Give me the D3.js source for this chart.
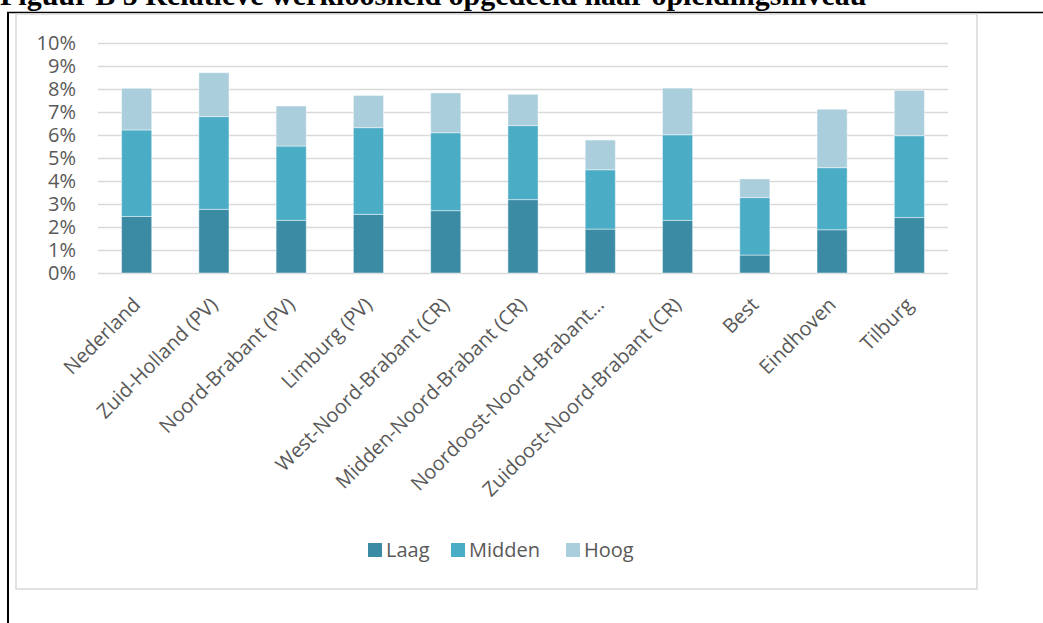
<!DOCTYPE html>
<html>
<head>
<meta charset="utf-8">
<script src="https://cdn.jsdelivr.net/npm/d3@7/dist/d3.min.js"></script>
<style>
  html, body { margin: 0; padding: 0; background: #fff; }
  svg { display: block; }
</style>
</head>
<body>
<svg id="chart" width="1043" height="623"></svg>
<script>
// Regions shown along the x axis
const regions = [
  "Nederland", "Zuid-Holland (PV)", "Noord-Brabant (PV)", "Limburg (PV)",
  "West-Noord-Brabant (CR)", "Midden-Noord-Brabant (CR)", "Noordoost-Noord-Brabant…",
  "Zuidoost-Noord-Brabant (CR)", "Best", "Eindhoven", "Tilburg"
];

// Unemployment share (%) per education level, stacked bottom to top
const laag   = [2.46, 2.77, 2.29, 2.55, 2.71, 3.19, 1.91, 2.29, 0.78, 1.88, 2.41];
const midden = [3.76, 4.03, 3.23, 3.77, 3.39, 3.22, 2.58, 3.72, 2.50, 2.70, 3.56];
const hoog   = [1.81, 1.91, 1.74, 1.40, 1.73, 1.36, 1.29, 2.03, 0.81, 2.54, 1.97];

const seriesNames = ["Laag", "Midden", "Hoog"];
const seriesColors = ["#3b8ba4", "#4bacc6", "#aacedc"];
const yTicks = [0, 1, 2, 3, 4, 5, 6, 7, 8, 9, 10];

const title = "Figuur B 5 Relatieve werkloosheid opgedeeld naar opleidingsniveau";

const svg = d3.select("#chart");
const textColor = "#595959";
const labelFont = "'Open Sans', 'DejaVu Sans', sans-serif";

// Heading, partly cut off at the top edge
svg.append("text")
  .attr("x", 0).attr("y", 5)
  .attr("font-family", "'Liberation Serif', 'Times New Roman', serif")
  .attr("font-weight", "bold")
  .attr("font-size", 30)
  .attr("fill", "#000")
  .text(title);

// Black frame lines (top and left)
svg.append("line").attr("x1", 7).attr("x2", 1043).attr("y1", 12.5).attr("y2", 12.5)
  .attr("stroke", "#000").attr("stroke-width", 1.5);
svg.append("line").attr("x1", 8).attr("x2", 8).attr("y1", 12).attr("y2", 623)
  .attr("stroke", "#000").attr("stroke-width", 2);

// Chart area border
svg.append("rect")
  .attr("x", 16).attr("y", 14).attr("width", 961).attr("height", 575)
  .attr("fill", "#fff").attr("stroke", "#d9d9d9").attr("stroke-width", 1.5);

// Plot geometry
const plot = { left: 98, right: 948, top: 43, bottom: 273 };

const x = d3.scaleBand()
  .domain(regions)
  .range([plot.left, plot.right])
  .paddingInner(0.61)
  .paddingOuter(0.305);

const y = d3.scaleLinear()
  .domain([0, 10])
  .range([plot.bottom, plot.top]);

// Horizontal gridlines
svg.append("g")
  .selectAll("line")
  .data(yTicks)
  .join("line")
  .attr("x1", plot.left).attr("x2", plot.right)
  .attr("y1", d => Math.round(y(d)) + 0.5).attr("y2", d => Math.round(y(d)) + 0.5)
  .attr("stroke", "#d9d9d9").attr("stroke-width", 1.3);

// Y axis tick labels
const yAxis = d3.axisLeft(y)
  .tickValues(yTicks)
  .tickFormat(d => d + "%")
  .tickSize(0)
  .tickPadding(22);

const yAxisG = svg.append("g")
  .attr("transform", `translate(${plot.left},0)`)
  .call(yAxis);
yAxisG.select(".domain").remove();
yAxisG.selectAll("text")
  .attr("font-family", labelFont)
  .attr("font-size", 20)
  .attr("fill", textColor);

// Stacked bars
const rows = regions.map((r, i) => ({ region: r, Laag: laag[i], Midden: midden[i], Hoog: hoog[i] }));
const stacked = d3.stack().keys(seriesNames)(rows);

svg.append("g")
  .selectAll("g")
  .data(stacked)
  .join("g")
  .attr("fill", (d, i) => seriesColors[i])
  .selectAll("rect")
  .data(d => d)
  .join("rect")
  .attr("x", d => x(d.data.region))
  .attr("width", x.bandwidth())
  .attr("y", d => y(d[1]))
  .attr("height", d => y(d[0]) - y(d[1]))
  .attr("stroke", "#ffffff")
  .attr("stroke-opacity", 0.45)
  .attr("stroke-width", 1);

// X axis category labels, rotated 45 degrees
const xAxis = d3.axisBottom(x).tickSize(0).tickPadding(0);
const xAxisG = svg.append("g")
  .attr("transform", `translate(0,${plot.bottom})`)
  .call(xAxis);
xAxisG.select(".domain").remove();
xAxisG.selectAll("text")
  .attr("font-family", labelFont)
  .attr("font-size", 20)
  .attr("fill", textColor)
  .attr("text-anchor", "end")
  .attr("dy", null)
  .attr("y", 0)
  .attr("transform", "translate(5,33) rotate(-45)");

// Legend
const legend = svg.append("g")
  .selectAll("g")
  .data(seriesNames)
  .join("g")
  .attr("transform", (d, i) => `translate(${[368, 451, 566][i]},543)`);
legend.append("rect")
  .attr("width", 14).attr("height", 14)
  .attr("fill", (d, i) => seriesColors[i]);
legend.append("text")
  .attr("x", 18).attr("y", 7)
  .attr("dy", "0.35em")
  .attr("font-family", labelFont)
  .attr("font-size", 20)
  .attr("fill", textColor)
  .text(d => d);
</script>
</body>
</html>
